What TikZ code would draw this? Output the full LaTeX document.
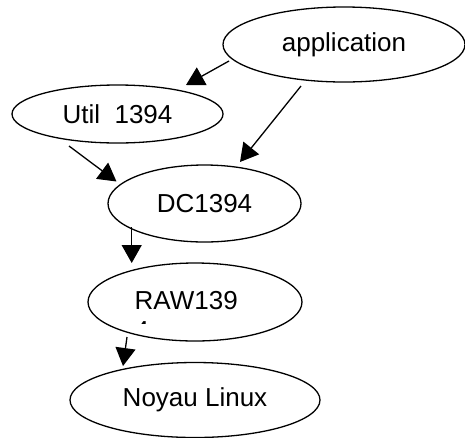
\documentclass[tikz,border=0pt]{standalone}
\usepackage{fontspec}
\setmainfont{Liberation Sans}
\usetikzlibrary{shapes.geometric,arrows.meta}
\tikzset{%
    bulle/.style={%
        draw, ellipse, line width=1.3pt, inner sep=0pt,
        font=\fontsize{26}{30}\selectfont},
    fleche/.style={%
        -{Triangle[length=18pt,width=20pt]}, line width=1.3pt}
}

\begin{document}
\begin{tikzpicture}[x=1pt,y=-1pt]
\useasboundingbox (0,0) rectangle (465,437);
\node[bulle, minimum width=242pt, minimum height=75pt] (app) at (344,44.5) {application};
\node[bulle, minimum width=211pt, minimum height=58pt] (util) at (117.5,114) {Util\ \ 1394};
\node[bulle, minimum width=193pt, minimum height=77pt] (dc) at (204.5,203.5) {DC1394};
\node[bulle, minimum width=214pt, minimum height=78pt] (raw) at (195,302) {};
\node[bulle, minimum width=250pt, minimum height=75pt] (noyau) at (195,400) {Noyau Linux};
% texte de RAW139, la suite coupee
\node[font=\fontsize{26}{30}\selectfont, anchor=base west, inner sep=0pt] (rawtxt) at (134.5,309) {RAW139};
\begin{scope}
    \clip (130,318) rectangle (160,323.5);
    \node[font=\fontsize{26}{30}\selectfont, anchor=base west, inner sep=0pt] (rawquatre) at (134.5,339) {4};
\end{scope}
% fleches
\draw[fleche] ([shift={(-115,16.5)}]app.center) -- ([shift={(68.5,-29)}]util.center);
\draw[fleche] ([shift={(-43,41.5)}]app.center) -- ([shift={(35.5,-41.5)}]dc.center);
\draw[fleche] ([shift={(-48.5,32)}]util.center) -- ([shift={(-88,-22)}]dc.center);
\draw[fleche] ([shift={(-72.8,23.5)}]dc.center) -- ([shift={(-63.3,-39)}]raw.center);
\draw[fleche] ([shift={(-68,35)}]raw.center) -- ([shift={(-72,-34)}]noyau.center);
\end{tikzpicture}
\end{document}
